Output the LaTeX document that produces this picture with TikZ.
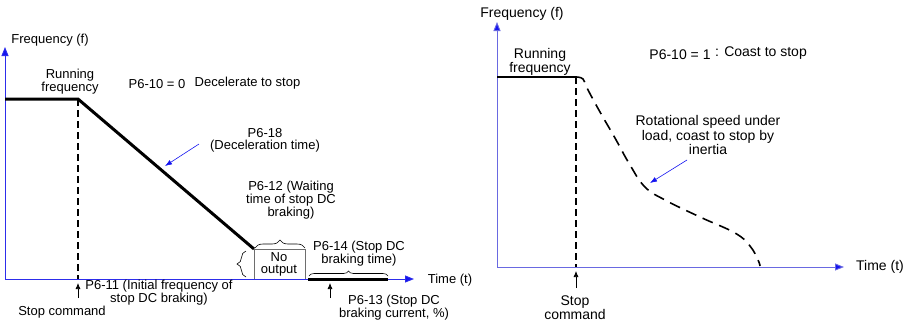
\documentclass[tikz,border=0pt]{standalone}
\usepackage{fontspec}
\setmainfont{Liberation Sans}
\usetikzlibrary{arrows.meta,decorations.pathreplacing}
\definecolor{axl}{RGB}{45,45,235}
\definecolor{axr}{RGB}{105,105,225}
\definecolor{tipblue}{RGB}{20,20,240}
\definecolor{boxgray}{RGB}{110,110,110}
\begin{document}
\begin{tikzpicture}[x=1pt,y=-1pt,
  lbl/.style={inner sep=0pt,align=center,font=\fontsize{13}{12}\selectfont},
  rlbl/.style={inner sep=0pt,align=center,font=\fontsize{14}{13}\selectfont},
  axisline/.style={line width=0.9pt,-{Triangle[length=9pt,width=7pt,fill=tipblue]}},
  pointer/.style={tipblue,line width=0.6pt,-{Latex[length=7pt,width=5pt]}},
  thick line/.style={line width=3pt},
  dashline/.style={line width=1.6pt,dash pattern=on 7pt off 4pt},
  curvedash/.style={line width=1.6pt,dash pattern=on 11pt off 7pt},
  stoparrow/.style={line width=0.7pt,-{Latex[length=6pt,width=5pt]}},
  bracestyle/.style={decorate,line width=0.6pt}
]
\useasboundingbox (0,0) rectangle (919,322);

% ---------------- Left diagram ----------------
\coordinate (O1) at (5,279);
\coordinate (Y1) at (5,47);
\coordinate (X1) at (414,279);
\coordinate (R1) at (5,99);
\coordinate (S1) at (78,99);
\coordinate (S1b) at (78,279);
\coordinate (E1) at (254,249);
\coordinate (B1) at (254,279);
\coordinate (B2) at (305,249);
\coordinate (B3) at (305,279);
\coordinate (D1) at (308,279);
\coordinate (D2) at (388,279);

\draw[axisline,axl] (O1) -- (Y1);
\draw[axisline,axl] (O1) -- (X1);
\draw[dashline] (S1) -- (S1b);
\draw[thick line,line join=miter] (R1) -- (S1) -- (E1);
\draw[boxgray,line width=0.7pt] (B1) -- (E1) -- (B2) -- (B3);
\draw[thick line] (D1) -- (D2);

% braces
\draw[bracestyle,decoration={brace,amplitude=8pt}] (255,248) -- (305,248);
\draw[bracestyle,decoration={brace,amplitude=9pt}] (246,277) -- (246,251);
\draw[bracestyle,decoration={brace,amplitude=5pt}] (309,276) -- (388,276);

% texts
\node[lbl] (f1) at (50,40) {Frequency (f)};
\node[lbl] (run1) at (70,82) {Running\\frequency};
\node[lbl] (p610) at (157,84) {P6-10 = 0};
\node[lbl] (dec) at (247.5,83) {Decelerate to stop};
\node[lbl] (p618) at (265,140) {P6-18\\(Deceleration time)};
\node[lbl] (p612) at (291,200) {P6-12 (Waiting\\time of stop DC\\braking)};
\node[lbl] (noout) at (279,264) {No\\output};
\node[lbl] (p614) at (359,254) {P6-14 (Stop DC\\braking time)};
\node[lbl] (p613) at (394,307.5) {P6-13 (Stop DC\\braking current, \%)};
\node[lbl] (p611) at (159,292.5) {P6-11 (Initial frequency of\\stop DC braking)};
\node[lbl] (stop1) at (62,312) {Stop command};
\node[lbl] (t1) at (450,280) {Time (t)};

\coordinate (a1s) at (199,144);
\coordinate (a1e) at (165,166);
\draw[pointer] (a1s) -- (a1e);

\coordinate (sc1) at (78,298);
\coordinate (sc1e) at (78,283);
\draw[stoparrow] (sc1) -- (sc1e);
\coordinate (dc1) at (330,298);
\coordinate (dc1e) at (330,283);
\draw[stoparrow] (dc1) -- (dc1e);

% ---------------- Right diagram ----------------
\coordinate (O2) at (497,267);
\coordinate (Y2) at (497,22);
\coordinate (X2) at (844,267);
\coordinate (R2) at (497,77);
\coordinate (S2) at (576,77);
\coordinate (S2b) at (576,267);

\draw[axisline,axr] (O2) -- (Y2);
\draw[axisline,axr] (O2) -- (X2);
\draw[dashline] (S2) -- (S2b);
\draw[line width=2.2pt] (R2) -- (S2);
\draw[curvedash] plot[smooth,tension=0.7] coordinates
  {(576,77) (583,79) (587,88) (600,112) (615,138) (630,165) (645,187) (665,200) (700,217) (735,233) (750,246) (758,260) (760,266)};

\node[rlbl] (f2) at (522,14) {Frequency (f)};
\node[rlbl] (run2) at (540,61.5) {Running\\frequency};
\node[rlbl] (p610b) at (680,55) {P6-10 = 1};
\node[rlbl] (coast) at (761,53) {: Coast to stop};
\node[rlbl] (rot) at (708,135) {Rotational speed under\\load, coast to stop by\\inertia};
\node[rlbl] (t2) at (880,267) {Time (t)};
\node[rlbl] (stop2) at (575,308) {Stop\\command};

\coordinate (a2s) at (687,160);
\coordinate (a2e) at (650,183);
\draw[pointer] (a2s) -- (a2e);
\coordinate (sc2) at (576,288);
\coordinate (sc2e) at (576,271);
\draw[stoparrow] (sc2) -- (sc2e);
\end{tikzpicture}
\end{document}
